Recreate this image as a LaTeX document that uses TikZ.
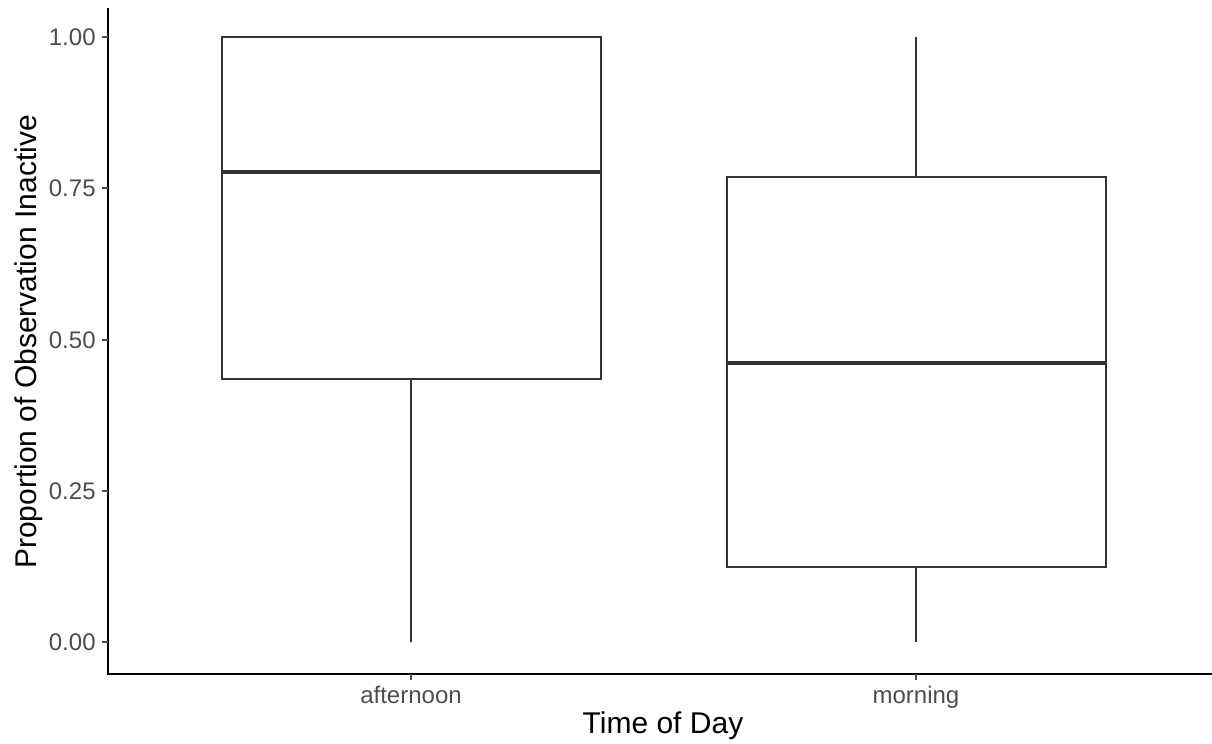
\documentclass[tikz,border=0pt]{standalone}
\usepackage{fontspec}
\setmainfont{Liberation Sans}
\definecolor{boxc}{HTML}{333333}
\definecolor{tickc}{HTML}{4D4D4D}
\begin{document}
\begin{tikzpicture}[x=0.5pt,y=-0.5pt,
  boxline/.style={draw=boxc,line width=1.05pt},
  medline/.style={draw=boxc,line width=2.1pt},
  axisline/.style={draw=black,line width=1pt},
  tickmark/.style={draw=tickc,line width=1pt},
  ylab/.style={anchor=east,text=tickc,font=\fontsize{12}{14}\selectfont,inner sep=0pt},
  xlab/.style={anchor=north,text=tickc,font=\fontsize{12}{14}\selectfont,inner sep=0pt},
  axtitle/.style={text=black,font=\fontsize{15}{18}\selectfont,inner sep=0pt}]
\useasboundingbox (0,0) rectangle (1212,744);
% afternoon box
\draw[boxline] (411,379) -- (411,642);
\draw[boxline,fill=white] (222,37) rectangle (601,379);
\draw[medline] (222,172) -- (601,172);
% morning box
\draw[boxline] (916,37) -- (916,177);
\draw[boxline] (916,567) -- (916,642);
\draw[boxline,fill=white] (727,177) rectangle (1106,567);
\draw[medline] (727,363) -- (1106,363);
% axes
\draw[axisline] (108,8) -- (108,674) -- (1212,674);
\foreach \v/\y in {1.00/37,0.75/188,0.50/340,0.25/491,0.00/642}{
  \draw[tickmark] (102,\y) -- (108,\y);
  \node[ylab] (yl\y) at (96,\y) {\v};
}
\draw[tickmark] (411,674) -- (411,680);
\draw[tickmark] (916,674) -- (916,680);
\node[xlab] (xa) at (411,686) {afternoon};
\node[xlab] (xm) at (916,686) {morning};
\node[axtitle] (xt) at (663,726) {Time of Day};
\node[axtitle,rotate=90] (yt) at (29,342) {Proportion of Observation Inactive};
\end{tikzpicture}
\end{document}
